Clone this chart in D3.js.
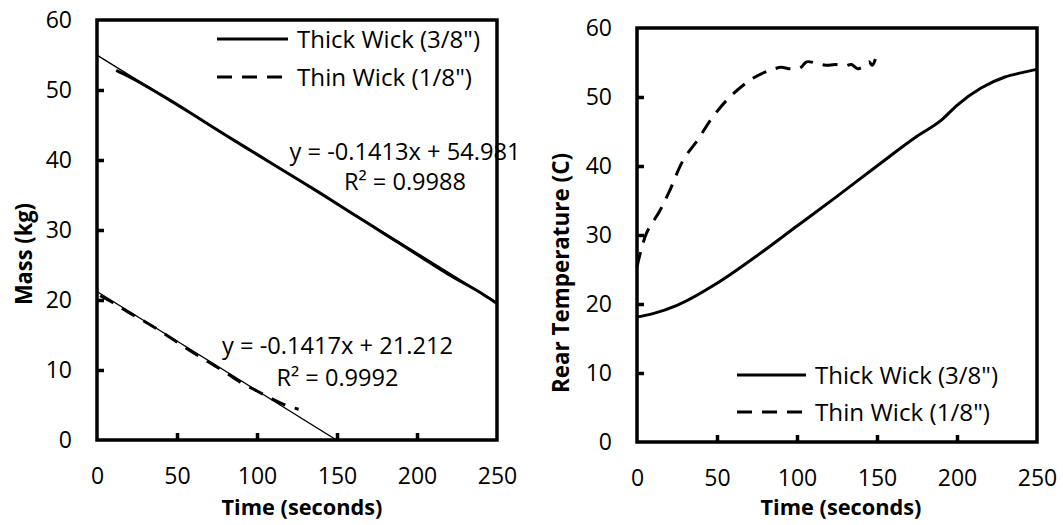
<!DOCTYPE html>
<html>
<head>
<meta charset="utf-8">
<script src="https://cdn.jsdelivr.net/npm/d3@7"></script>
<style>
  body { margin: 0; background: #fff; }
  svg { display: block; font-family: "Open Sans", sans-serif; }
</style>
</head>
<body>
<svg id="chart" width="1063" height="525"></svg>
<script>
// ---- data ----
const timeTicks = [0, 50, 100, 150, 200, 250];
const valueTicks = [0, 10, 20, 30, 40, 50, 60];
const seriesNames = ["Thick Wick (3/8\")", "Thin Wick (1/8\")"];

// fuel mass over time
const thickMassTime = [12, 20, 40, 60, 80, 100, 120, 140, 160, 180, 200, 220, 240, 250];
const thickMass     = [52.8, 51.9, 49.3, 46.5, 43.6, 40.8, 38.0, 35.2, 32.3, 29.4, 26.5, 23.6, 21.0, 19.5];
const thinMassTime  = [2, 10, 20, 30, 40, 50, 60, 70, 80, 90, 100, 110, 120, 126];
const thinMass      = [20.6, 19.6, 18.2, 16.9, 15.5, 14.0, 12.5, 11.1, 9.7, 8.2, 7.0, 5.8, 4.8, 4.4];

// linear fits of the mass curves (thick, thin)
const trendSlope     = [-0.1413, -0.1417];
const trendIntercept = [54.981, 21.212];
const trendR2        = [0.9988, 0.9992];

// rear temperature over time
const thickTempTime = [0, 10, 25, 50, 75, 100, 125, 150, 175, 190, 200, 215, 230, 240, 250];
const thickTemp     = [18.1, 18.6, 19.8, 23.0, 27.0, 31.3, 35.6, 40.0, 44.3, 46.6, 48.8, 51.3, 52.9, 53.5, 54.0];
const thinTempTime  = [0, 6, 14, 20, 29, 38, 47, 58, 71, 80, 85, 90, 95, 100, 103, 106, 112, 118, 124, 130, 134, 138, 142, 145, 147, 149];
const thinTemp      = [25.4, 30.3, 33.4, 36.2, 40.9, 43.8, 47.0, 50.0, 52.5, 53.6, 54.0, 54.3, 54.1, 54.1, 54.4, 55.1, 54.9, 54.6, 54.7, 54.5, 54.7, 54.1, 54.5, 55.1, 54.6, 55.5];

// ---- drawing ----
const svg = d3.select("#chart");
const FONT = 24;
const TICK_FONT = 23;
const TITLE_FONT = 22;
const DASH = "15,10";
const legendTextLen = [183, 175];

function panel(opts) {
  const x = d3.scaleLinear().domain([0, 250]).range([opts.left, opts.right]);
  const y = d3.scaleLinear().domain([0, 60]).range([opts.bottom, opts.top]);
  const g = svg.append("g");

  const clipId = "clip-" + opts.id;
  g.append("clipPath").attr("id", clipId)
    .append("rect")
    .attr("x", opts.left).attr("y", opts.top)
    .attr("width", opts.right - opts.left).attr("height", opts.bottom - opts.top);

  // axes with inward ticks
  const xAxis = g.append("g")
    .attr("transform", `translate(0,${opts.bottom})`)
    .call(d3.axisBottom(x).tickValues(timeTicks).tickSizeInner(-7).tickSizeOuter(0).tickPadding(28));
  const yAxis = g.append("g")
    .attr("transform", `translate(${opts.left},0)`)
    .call(d3.axisLeft(y).tickValues(valueTicks).tickSizeInner(-7).tickSizeOuter(0).tickPadding(25));

  [xAxis, yAxis].forEach(ax => {
    ax.attr("font-family", null).attr("font-size", null);
    ax.select(".domain").remove();
    ax.selectAll(".tick line").attr("stroke", "#000").attr("stroke-width", 3.5)
      .filter((d, i, n) => i === 0 || i === n.length - 1).remove();
    ax.selectAll(".tick text").attr("fill", "#000").style("font-size", TICK_FONT + "px");
  });

  // plot-area frame
  g.append("rect")
    .attr("x", opts.left).attr("y", opts.top)
    .attr("width", opts.right - opts.left).attr("height", opts.bottom - opts.top)
    .attr("fill", "none").attr("stroke", "#000").attr("stroke-width", 3.5);

  // axis titles
  g.append("text")
    .attr("x", (opts.left + opts.right) / 2 + opts.xTitleShift).attr("y", 514.5)
    .attr("text-anchor", "middle").attr("font-weight", "bold")
    .style("font-size", TITLE_FONT + "px")
    .attr("textLength", 161).attr("lengthAdjust", "spacingAndGlyphs")
    .text("Time (seconds)");
  g.append("text")
    .attr("transform", `translate(${opts.yTitleX},${opts.yTitleY}) rotate(-90)`)
    .attr("text-anchor", "middle").attr("font-weight", "bold")
    .style("font-size", FONT + "px")
    .attr("textLength", opts.yTitleLen).attr("lengthAdjust", "spacingAndGlyphs")
    .text(opts.yTitle);

  return { g, x, y, clipId };
}

function drawLine(p, xs, ys, dashed, curve) {
  const pts = xs.map((t, i) => [t, ys[i]]);
  const line = d3.line().x(d => p.x(d[0])).y(d => p.y(d[1])).curve(curve);
  p.g.append("path")
    .attr("d", line(pts))
    .attr("fill", "none").attr("stroke", "#000").attr("stroke-width", 3)
    .attr("stroke-linejoin", "round")
    .attr("stroke-dasharray", dashed ? DASH : null);
}

function drawLegend(p, x0, x1, ys) {
  seriesNames.forEach((name, i) => {
    p.g.append("line")
      .attr("x1", x0).attr("x2", x1).attr("y1", ys[i]).attr("y2", ys[i])
      .attr("stroke", "#000").attr("stroke-width", 3)
      .attr("stroke-dasharray", i === 1 ? DASH : null);
    p.g.append("text")
      .attr("x", x1 + 9).attr("y", ys[i] + 8.5)
      .style("font-size", FONT + "px").attr("fill", "#000")
      .attr("textLength", legendTextLen[i]).attr("lengthAdjust", "spacingAndGlyphs")
      .text(name);
  });
}

// ---- left panel: mass ----
const mass = panel({
  id: "mass", left: 97, right: 497, top: 20, bottom: 440,
  xTitleShift: 5, yTitle: "Mass (kg)", yTitleX: 32, yTitleY: 254, yTitleLen: 102
});

// fitted lines, drawn from the stated slope/intercept
const trendEnds = [[0, 250], [0, -trendIntercept[1] / trendSlope[1]]];
trendSlope.forEach((m, i) => {
  const [a, b] = trendEnds[i];
  mass.g.append("line")
    .attr("clip-path", `url(#${mass.clipId})`)
    .attr("x1", mass.x(a)).attr("y1", mass.y(m * a + trendIntercept[i]))
    .attr("x2", mass.x(b)).attr("y2", mass.y(m * b + trendIntercept[i]))
    .attr("stroke", "#000").attr("stroke-width", 1.3);
});

drawLine(mass, thickMassTime, thickMass, false, d3.curveMonotoneX);
drawLine(mass, thinMassTime, thinMass, true, d3.curveMonotoneX);

// fit equations
const eqPos = [
  { cx: 405, y1: 160, y2: 190 },
  { cx: 337.5, y1: 354, y2: 386 }
];
trendSlope.forEach((m, i) => {
  const e = eqPos[i];
  mass.g.append("text")
    .attr("x", e.cx).attr("y", e.y1).attr("text-anchor", "middle")
    .style("font-size", FONT + "px")
    .attr("textLength", 231).attr("lengthAdjust", "spacingAndGlyphs")
    .text(`y = ${m.toFixed(4)}x + ${trendIntercept[i].toFixed(3)}`);
  mass.g.append("text")
    .attr("x", e.cx).attr("y", e.y2).attr("text-anchor", "middle")
    .style("font-size", FONT + "px")
    .attr("textLength", 122).attr("lengthAdjust", "spacingAndGlyphs")
    .text(`R² = ${trendR2[i].toFixed(4)}`);
});

drawLegend(mass, 217, 288, [39, 77]);

// ---- right panel: rear temperature ----
const temp = panel({
  id: "temp", left: 637, right: 1037, top: 28, bottom: 442,
  xTitleShift: 4, yTitle: "Rear Temperature (C)", yTitleX: 569, yTitleY: 273, yTitleLen: 240
});

drawLine(temp, thickTempTime, thickTemp, false, d3.curveMonotoneX);
drawLine(temp, thinTempTime, thinTemp, true, d3.curveCatmullRom);

drawLegend(temp, 737, 806, [375, 412]);
</script>
</body>
</html>
